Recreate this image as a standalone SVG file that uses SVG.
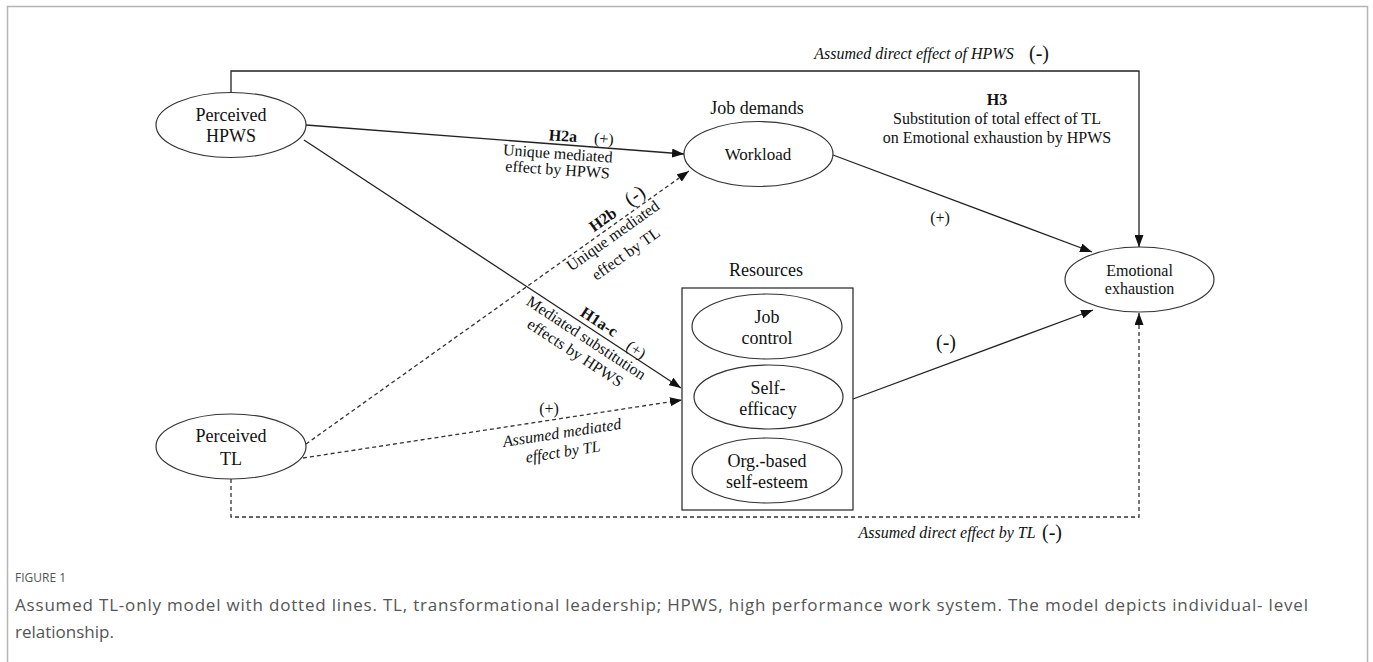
<svg xmlns="http://www.w3.org/2000/svg" width="1373" height="662" viewBox="0 0 1373 662">
<style>
.t{font-family:"Liberation Serif","Times New Roman",serif;fill:#111;text-anchor:middle}
.s16{font-size:16px}.s17{font-size:17px}.s18{font-size:18px}.s20{font-size:20px}
.b{font-weight:bold}.i{font-style:italic}
.node{fill:#fff;stroke:#333;stroke-width:1.2}
.ln{fill:none;stroke:#222;stroke-width:1.3}
.ds{fill:none;stroke:#333;stroke-width:1.3;stroke-dasharray:4 3}
.cap{font-family:"Open Sans","Noto Sans",sans-serif;fill:#555}
</style>
<defs>
<marker id="ah" viewBox="0 0 12 9" refX="12" refY="4.5" markerWidth="12" markerHeight="9" markerUnits="userSpaceOnUse" orient="auto">
<path d="M0,0 L12,4.5 L0,9 z" fill="#111"/>
</marker>
</defs>
<rect width="1373" height="662" fill="#fff"/>
<path d="M7.5,662 V6.5 H1367.5 V662" fill="none" stroke="#b5b5b5" stroke-width="1.5"/>

<g id="connectors">
<polyline class="ln" points="231,92 231,71 1139,71 1139,247" marker-end="url(#ah)"/>
<polyline class="ds" points="231,479 231,517 1139,517 1139,313" marker-end="url(#ah)"/>
<line class="ln" x1="306" y1="125" x2="684" y2="154" marker-end="url(#ah)"/>
<line class="ln" x1="304" y1="140" x2="681" y2="388" marker-end="url(#ah)"/>
<line class="ds" x1="306" y1="444" x2="689" y2="171" marker-end="url(#ah)"/>
<line class="ds" x1="303" y1="458" x2="682" y2="400" marker-end="url(#ah)"/>
<line class="ln" x1="833" y1="155" x2="1092" y2="252" marker-end="url(#ah)"/>
<line class="ln" x1="853" y1="399" x2="1093" y2="310" marker-end="url(#ah)"/>
</g>

<g id="labels">
<text class="t s16 i" x="914" y="59">Assumed direct effect of  HPWS</text>
<text class="t s20" x="1039" y="60">(-)</text>
<text class="t s16 b" x="997" y="105">H3</text>
<text class="t s16" x="997" y="124">Substitution of total effect of TL</text>
<text class="t s16" x="997" y="143">on Emotional exhaustion by HPWS</text>
<g transform="rotate(4 560 150)">
<text class="t s16 b" x="562" y="141">H2a</text>
<text class="t s16" x="603" y="141">(+)</text>
<text class="t s16" x="558" y="159">Unique mediated</text>
<text class="t s16" x="559" y="175">effect by HPWS</text>
</g>
<g transform="translate(603 220) rotate(-35.4)"><text class="t s16 b" x="0" y="5">H2b</text></g>
<g transform="translate(635 196) rotate(-35.4)"><text class="t s20" x="0" y="6">(-)</text></g>
<g transform="translate(613 236) rotate(-35.4)"><text class="t s16" x="0" y="5">Unique mediated</text></g>
<g transform="translate(626 254) rotate(-35.4)"><text class="t s16" x="0" y="5">effect by TL</text></g>
<g transform="translate(599 322) rotate(33.3)"><text class="t s16 b" x="0" y="5">H1a-c</text></g>
<g transform="translate(636 350) rotate(33.3)"><text class="t s16" x="0" y="5">(+)</text></g>
<g transform="translate(586 338) rotate(33.3)"><text class="t s16" x="0" y="5">Mediated substitution</text></g>
<g transform="translate(575 353) rotate(33.3)"><text class="t s16" x="0" y="5">effects by HPWS</text></g>
<text class="t s16" x="549" y="414">(+)</text>
<g transform="translate(562 433) rotate(-8.7)"><text class="t s16 i" x="0" y="5">Assumed mediated</text></g>
<g transform="translate(563 452) rotate(-8.7)"><text class="t s16 i" x="0" y="5">effect by TL</text></g>
<text class="t s16" x="940" y="223">(+)</text>
<text class="t s20" x="946" y="349">(-)</text>
<text class="t s16 i" x="947" y="538">Assumed direct effect by TL</text>
<text class="t s20" x="1052" y="539">(-)</text>
</g>

<g id="hpws">
<ellipse class="node" cx="231" cy="125" rx="75" ry="32.5"/>
<text class="t s18" x="231" y="121">Perceived</text>
<text class="t s18" x="231" y="142">HPWS</text>
</g>
<g id="tl">
<ellipse class="node" cx="231" cy="446.5" rx="75" ry="32.5"/>
<text class="t s18" x="231" y="442">Perceived</text>
<text class="t s18" x="231" y="465">TL</text>
</g>
<g id="workload">
<text class="t s18" x="757" y="114">Job demands</text>
<ellipse class="node" cx="758.5" cy="154" rx="74.5" ry="32.5"/>
<text class="t s17" x="758" y="160">Workload</text>
</g>
<g id="resources">
<text class="t s18" x="766" y="276">Resources</text>
<rect x="682" y="288" width="171" height="222" fill="none" stroke="#222" stroke-width="1.2"/>
</g>
<g id="job-control">
<ellipse class="node" cx="767" cy="326.5" rx="75" ry="32.5"/>
<text class="t s18" x="767" y="323">Job</text>
<text class="t s18" x="767" y="344">control</text>
</g>
<g id="self-efficacy">
<ellipse class="node" cx="768.5" cy="397" rx="74.5" ry="32"/>
<text class="t s18" x="768" y="394">Self-</text>
<text class="t s18" x="768" y="415">efficacy</text>
</g>
<g id="obse">
<ellipse class="node" cx="767" cy="470.5" rx="75" ry="32.5"/>
<text class="t s18" x="767" y="467">Org.-based</text>
<text class="t s18" x="767" y="488">self-esteem</text>
</g>
<g id="exhaustion">
<ellipse class="node" cx="1139.5" cy="279.5" rx="74.5" ry="32.5"/>
<text class="t s16" x="1139.5" y="276">Emotional</text>
<text class="t s16" x="1139.5" y="294">exhaustion</text>
</g>

<g id="caption">
<text class="cap" x="15" y="582" font-size="12" fill="#666">FIGURE 1</text>
<text class="cap" x="15" y="611" font-size="17" textLength="1293" lengthAdjust="spacing">Assumed TL-only model with dotted lines. TL, transformational leadership; HPWS, high performance work system. The model depicts individual- level</text>
<text class="cap" x="15" y="638" font-size="17">relationship.</text>
</g>
</svg>
